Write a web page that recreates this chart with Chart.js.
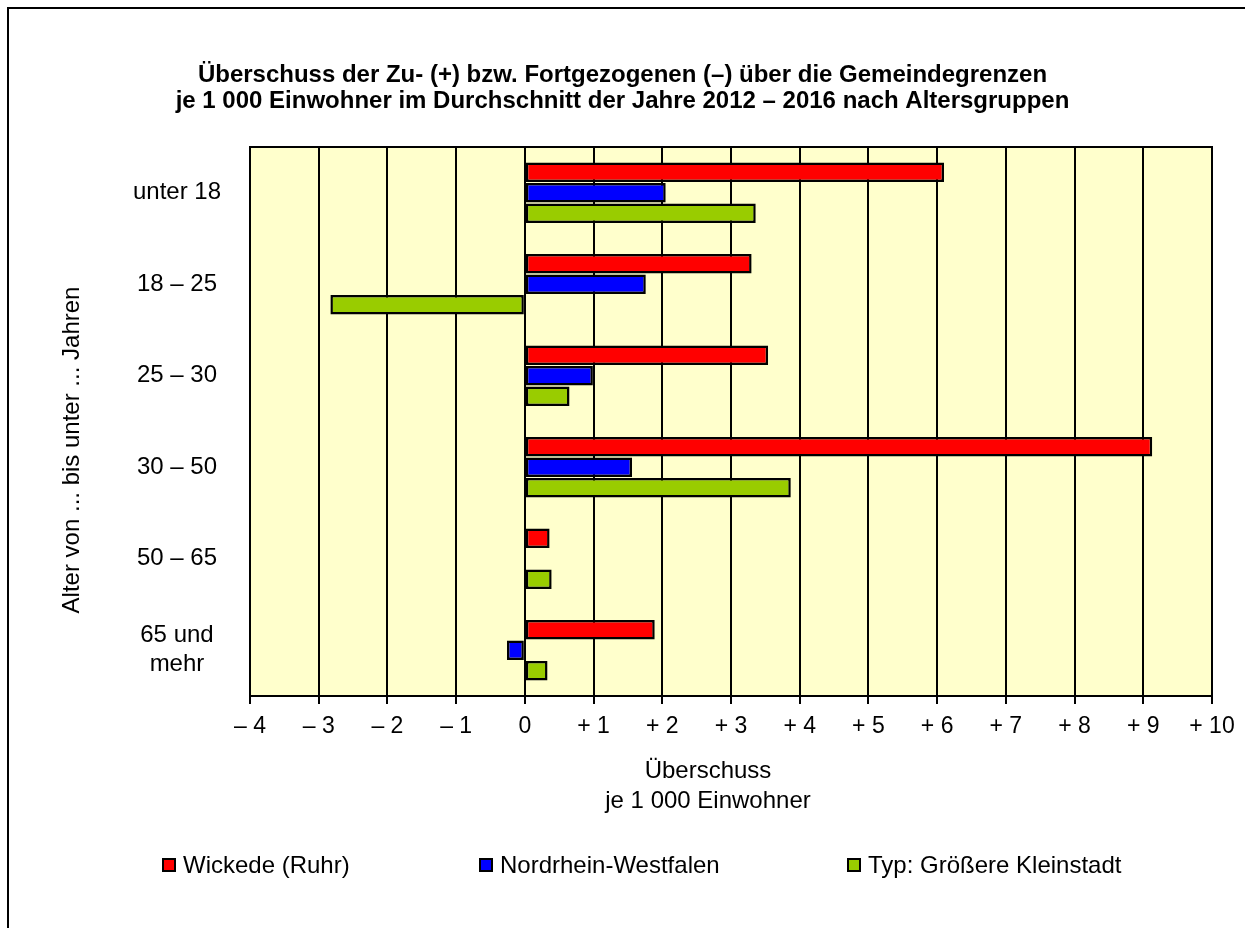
<!DOCTYPE html>
<html>
<head>
<meta charset="utf-8">
<script src="https://cdn.jsdelivr.net/npm/chart.js@4.4.1/dist/chart.umd.min.js"></script>
<style>
  html, body { margin: 0; padding: 0; background: #fff; }
  #wrap { width: 1245px; height: 928px; }
</style>
</head>
<body>
<div id="wrap"><canvas id="chart"></canvas></div>
<script>
// ---- data ----
const ageGroups = ['unter 18', '18 – 25', '25 – 30', '30 – 50', '50 – 65', ['65 und', 'mehr']];
const wickede = [6.10, 3.30, 3.54, 9.13, 0.36, 1.89];
const nrw = [2.05, 1.76, 0.99, 1.56, 0, -0.26];
const kleinstadt = [3.36, -2.83, 0.65, 3.87, 0.39, 0.33];
const seriesNames = ['Wickede (Ruhr)', 'Nordrhein-Westfalen', 'Typ: Größere Kleinstadt'];
const xTickLabels = ['– 4', '– 3', '– 2', '– 1', '0', '+ 1', '+ 2', '+ 3', '+ 4', '+ 5', '+ 6', '+ 7', '+ 8', '+ 9', '+ 10'];

const titleLines = [
  'Überschuss der Zu- (+) bzw. Fortgezogenen (–) über die Gemeindegrenzen',
  'je 1 000 Einwohner im Durchschnitt der Jahre 2012 – 2016 nach Altersgruppen'
];
const xTitle = ['Überschuss', 'je 1 000 Einwohner'];
const yTitle = 'Alter von ... bis unter ... Jahren';

const FONT = "'Liberation Sans', Arial, sans-serif";
const colors = ['#ff0000', '#0000ff', '#99cc00'];

// texts, background, frame and legend drawn around the chart area
const decor = {
  id: 'decor',
  beforeDraw(chart) {
    const { ctx, chartArea: a } = chart;
    ctx.save();
    ctx.fillStyle = '#ffffcc';
    ctx.fillRect(a.left, a.top, a.right - a.left, a.bottom - a.top);
    ctx.restore();
  },
  beforeDatasetsDraw(chart) {
    const { ctx, chartArea: a } = chart;
    ctx.save();
    ctx.strokeStyle = '#000';
    ctx.lineWidth = 2;
    ctx.strokeRect(a.left, a.top, a.right - a.left, a.bottom - a.top);
    ctx.restore();
  },
  afterDraw(chart) {
    const { ctx } = chart;
    ctx.save();
    // outer frame (only left and top visible)
    ctx.strokeStyle = '#000';
    ctx.lineWidth = 2;
    ctx.beginPath();
    ctx.moveTo(8, 928);
    ctx.lineTo(8, 8);
    ctx.lineTo(1245, 8);
    ctx.stroke();

    ctx.fillStyle = '#000';
    ctx.textAlign = 'center';
    ctx.textBaseline = 'middle';

    // main title
    ctx.font = 'bold 24px ' + FONT;
    titleLines.forEach((t, i) => ctx.fillText(t, 622.5, 75 + i * 26));

    // x axis title
    ctx.font = '24px ' + FONT;
    xTitle.forEach((t, i) => ctx.fillText(t, 708, 771 + i * 30));

    // y axis title
    ctx.translate(72, 450);
    ctx.rotate(-Math.PI / 2);
    ctx.fillText(yTitle, 0, 0);
    ctx.restore();

    // legend
    const boxX = [163, 480, 848];
    const y = 865;
    ctx.save();
    ctx.font = '24px ' + FONT;
    ctx.textBaseline = 'middle';
    ctx.textAlign = 'left';
    chart.data.datasets.forEach((ds, i) => {
      ctx.fillStyle = ds.backgroundColor;
      ctx.fillRect(boxX[i], y - 6, 12, 12);
      ctx.strokeStyle = '#000';
      ctx.lineWidth = 2;
      ctx.strokeRect(boxX[i], y - 6, 12, 12);
      ctx.fillStyle = '#000';
      ctx.fillText(ds.label, boxX[i] + 20, y + 1);
    });
    ctx.restore();
  }
};

const datasets = [wickede, nrw, kleinstadt].map((vals, i) => ({
  label: seriesNames[i],
  data: vals,
  backgroundColor: colors[i],
  borderColor: '#000',
  borderWidth: 2.5,
  borderSkipped: false,
  categoryPercentage: 0.673,
  barPercentage: 0.95
}));

new Chart(document.getElementById('chart'), {
  type: 'bar',
  data: { labels: ageGroups, datasets },
  options: {
    indexAxis: 'y',
    responsive: true,
    maintainAspectRatio: false,
    animation: false,
    layout: { padding: { left: 0, right: 33, top: 147, bottom: 112 } },
    plugins: {
      legend: { display: false },
      tooltip: { enabled: false },
      title: { display: false }
    },
    scales: {
      x: {
        min: -4,
        max: 10,
        afterBuildTicks(scale) {
          scale.ticks = xTickLabels.map((_, i) => ({ value: i - 4 }));
        },
        afterFit(scale) { scale.height = 120; },
        grid: { color: '#000', lineWidth: 2, drawTicks: true, tickLength: 8, tickColor: '#000' },
        border: { display: true, color: '#000', width: 2 },
        ticks: {
          color: '#000',
          padding: 9,
          maxRotation: 0,
          autoSkip: false,
          font: { family: FONT, size: 23 },
          callback: (v, i) => xTickLabels[i]
        }
      },
      y: {
        afterFit(scale) { scale.width = 250; },
        grid: { display: false, drawTicks: false },
        border: { display: true, color: '#000', width: 2 },
        ticks: {
          color: '#000',
          padding: 29,
          crossAlign: 'center',
          font: { family: FONT, size: 24 }
        }
      }
    }
  },
  plugins: [decor]
});
</script>
</body>
</html>
